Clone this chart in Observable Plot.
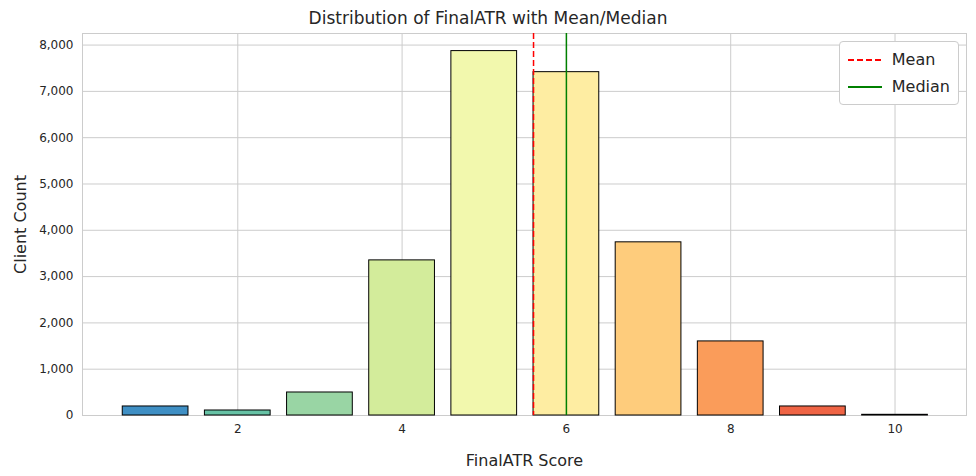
<!DOCTYPE html>
<html><head><meta charset="utf-8">
<script src="https://cdn.jsdelivr.net/npm/d3@7"></script>
<script src="https://cdn.jsdelivr.net/npm/@observablehq/plot@0.6"></script>
<style>
body{margin:0;font-family:"DejaVu Sans",sans-serif;background:#fff}
#wrap{position:relative;width:976px;height:476px}
#title{height:30px;line-height:36px;text-align:center;font-size:17px;color:#262626}
#legend{position:absolute;right:17px;top:41px;background:#fff;border:1px solid #ccc;border-radius:4px;padding:4px 8px;font-size:16px;color:#262626}
#legend div{display:flex;align-items:center;height:27px}
#legend svg{margin-right:10px}
</style></head>
<body><div id="wrap"><div id="title">Distribution of FinalATR with Mean/Median</div><div id="chart"></div>
<div id="legend"><div><svg width="34" height="4"><line x1="0" y1="2" x2="34" y2="2" stroke="red" stroke-width="2" stroke-dasharray="6,3"/></svg>Mean</div><div><svg width="34" height="4"><line x1="0" y1="2" x2="34" y2="2" stroke="green" stroke-width="2"/></svg>Median</div></div></div>
<script>
const scores=[1,2,3,4,5,6,7,8,9,10];
const counts=[195,108,497,3350,7870,7415,3740,1600,195,15];
const colors=["#3f8fc4","#66c2a5","#99d5a4","#d3ec9b","#f2f8ad","#feeda2","#fecc7c","#fa9c5a","#ef6445","#d53e4f"];
const meanVal=5.6, medianVal=6;
const data=scores.map((s,i)=>({s,c:counts[i],col:colors[i]}));
const p=Plot.plot({width:976,height:446,marginTop:3,marginBottom:61,marginLeft:82,marginRight:10,
style:{fontFamily:"DejaVu Sans",fontSize:"12px",color:"#262626"},
x:{domain:[0.11,10.87],ticks:[2,4,6,8,10],grid:true,label:"FinalATR Score",labelAnchor:"center",labelArrow:"none",labelOffset:50,tickSize:0},
y:{domain:[0,8250],ticks:d3.range(0,8001,1000),grid:true,label:"Client Count",labelAnchor:"center",labelArrow:"none",labelOffset:68,tickSize:0},
marks:[
Plot.frame({stroke:"#ccc"}),
Plot.rectY(data,{x1:d=>d.s-0.4,x2:d=>d.s+0.4,y:"c",fill:"col",stroke:"black",strokeWidth:1}),
Plot.ruleX([meanVal],{stroke:"red",strokeWidth:1.5,strokeDasharray:"6,3"}),
Plot.ruleX([medianVal],{stroke:"green",strokeWidth:1.5})
]});
p.querySelectorAll("[aria-label='x-axis label'] text, [aria-label='y-axis label'] text").forEach(t=>t.style.fontSize="16px");
p.querySelectorAll("[aria-label='grid'] line, [aria-label='x-grid'] line, [aria-label='y-grid'] line").forEach(l=>{l.setAttribute("stroke","#ccc");l.setAttribute("stroke-opacity","1")});
document.getElementById("chart").appendChild(p);
</script></body></html>
